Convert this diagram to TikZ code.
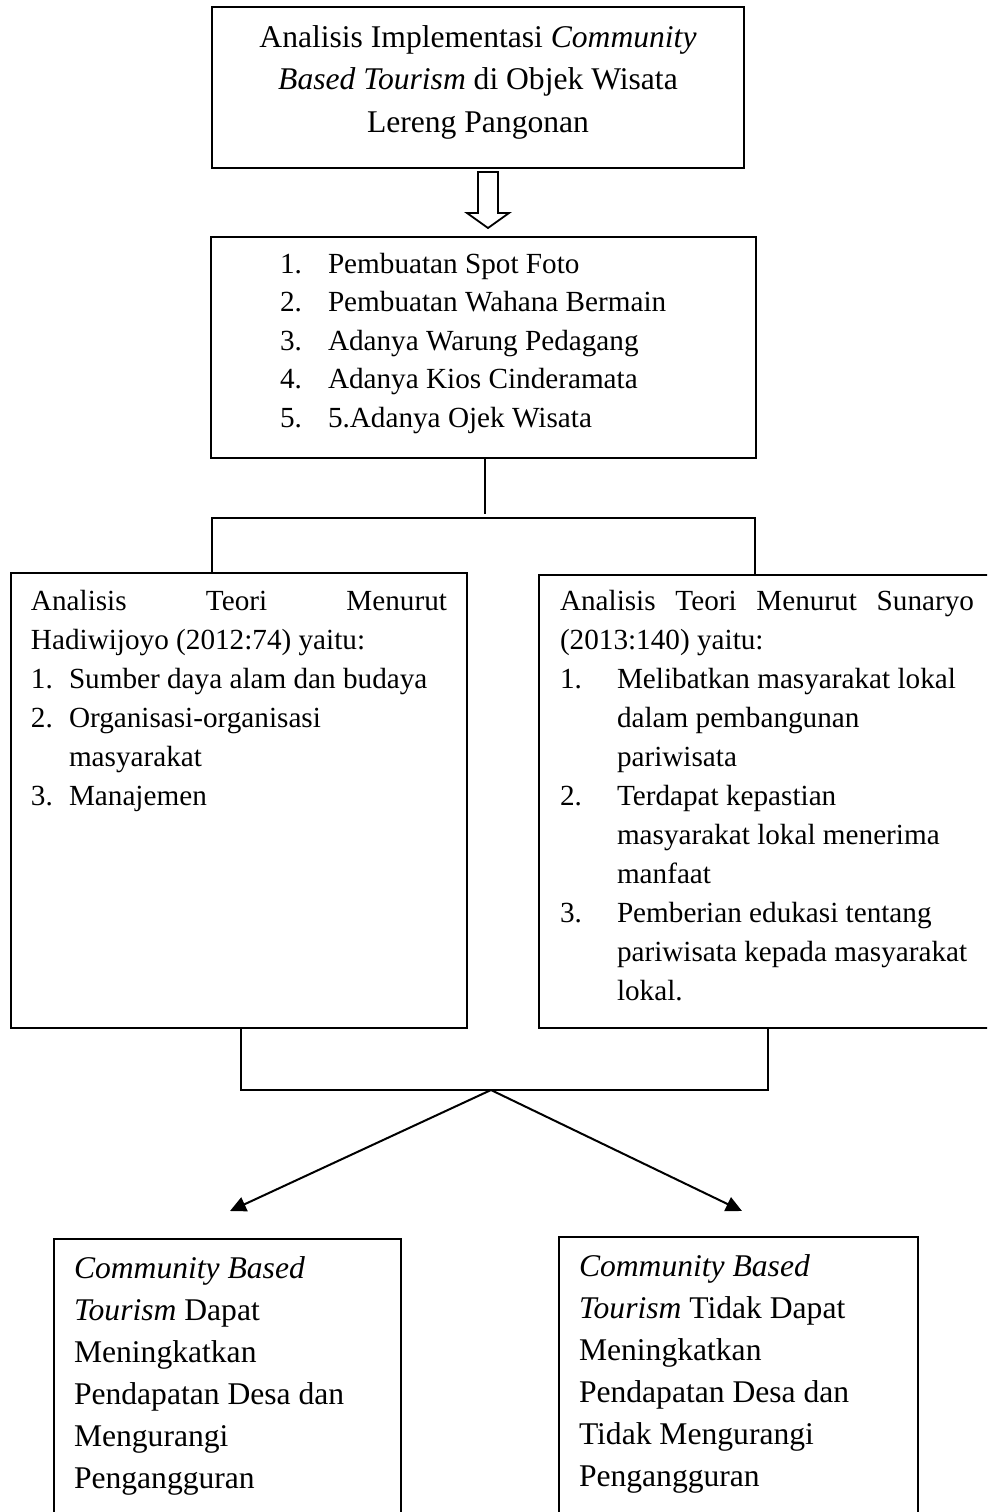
\documentclass[tikz,border=0pt]{standalone}
\usepackage{fontspec}
\setmainfont{Liberation Serif}
\usetikzlibrary{fit,arrows.meta}
\begin{document}
\begin{tikzpicture}[x=0.5pt,y=-0.5pt,
  box/.style={draw,line width=1pt,inner sep=0pt,outer sep=0pt},
  conn/.style={line width=1pt},
  arr/.style={line width=1pt,-{Triangle[length=8pt,width=7.5pt]}},
  bigtxt/.style={inner sep=0pt,outer sep=0pt,font=\fontsize{15.8}{19}\selectfont},
  midtxt/.style={inner sep=0pt,outer sep=0pt,anchor=base west,font=\fontsize{14.6}{18}\selectfont}]
\useasboundingbox (0,0) rectangle (987,1512);
\begin{scope}
\clip (0,0) rectangle (987,1512);
% boxes
\node[box,fit={(212,7)(744,168)}] (top) {};
\node[box,fit={(211,237)(756,458)}] (list) {};
\node[box,fit={(11,573)(467,1028)}] (hadi) {};
\node[box,fit={(539,575)(1000,1028)}] (suna) {};
\node[box,fit={(53.5,1239)(401,1530)}] (yes) {};
\node[box,fit={(559,1237)(918,1530)}] (no) {};

% top text
\node[bigtxt,anchor=base] (tt1) at (478,47) {Analisis Implementasi \textit{Community}};
\node[bigtxt,anchor=base] (tt2) at (478,89) {\textit{Based Tourism} di Objek Wisata};
\node[bigtxt,anchor=base] (tt3) at (478,132) {Lereng Pangonan};

% hollow arrow
\draw[line width=0.9pt] (478,172) -- (498,172) -- (498,213) -- (509,213) -- (488,228) -- (467,213) -- (478,213) -- cycle;

% list text
\foreach \t [count=\i] in {{Pembuatan Spot Foto},{Pembuatan Wahana Bermain},{Adanya Warung Pedagang},{Adanya Kios Cinderamata},{5.Adanya Ojek Wisata}}{
  \node[midtxt] (ln\i) at (280,{273.3+38.5*(\i-1)}) {\i.};
  \node[midtxt] (lt\i) at (328,{273.3+38.5*(\i-1)}) {\t};
}

% Hadiwijoyo text
\node[midtxt] (h1) at (31,610) {\makebox[208pt][l]{Analisis\hfill Teori\hfill Menurut}};
\node[midtxt] (h2) at (31,649) {Hadiwijoyo (2012:74) yaitu:};
\node[midtxt] (h3n) at (31,688) {1.};
\node[midtxt] (h3) at (69,688) {Sumber daya alam dan budaya};
\node[midtxt] (h4n) at (31,727) {2.};
\node[midtxt] (h4) at (69,727) {Organisasi-organisasi};
\node[midtxt] (h5) at (69,766) {masyarakat};
\node[midtxt] (h6n) at (31,805) {3.};
\node[midtxt] (h6) at (69,805) {Manajemen};

% Sunaryo text
\node[midtxt] (s1) at (560,610) {\makebox[207pt][l]{Analisis\hfill Teori\hfill Menurut\hfill Sunaryo}};
\node[midtxt] (s2) at (560,649) {(2013:140) yaitu:};
\node[midtxt] (s3n) at (560,688) {1.};
\node[midtxt] (s3) at (617,688) {Melibatkan masyarakat lokal};
\node[midtxt] (s4) at (617,727) {dalam pembangunan};
\node[midtxt] (s5) at (617,766) {pariwisata};
\node[midtxt] (s6n) at (560,805) {2.};
\node[midtxt] (s6) at (617,805) {Terdapat kepastian};
\node[midtxt] (s7) at (617,844) {masyarakat lokal menerima};
\node[midtxt] (s8) at (617,883) {manfaat};
\node[midtxt] (s9n) at (560,922) {3.};
\node[midtxt] (s9) at (617,922) {Pemberian edukasi tentang};
\node[midtxt] (s10) at (617,961) {pariwisata kepada masyarakat};
\node[midtxt] (s11) at (617,1000) {lokal.};

% bottom texts
\foreach \t [count=\i] in {{\textit{Community Based}},{\textit{Tourism} Dapat},{Meningkatkan},{Pendapatan Desa dan},{Mengurangi},{Pengangguran}}{
  \node[bigtxt,anchor=base west] (y\i) at (74,{1278+42*(\i-1)}) {\t};
}
\foreach \t [count=\i] in {{\textit{Community Based}},{\textit{Tourism} Tidak Dapat},{Meningkatkan},{Pendapatan Desa dan},{Tidak Mengurangi},{Pengangguran}}{
  \node[bigtxt,anchor=base west] (n\i) at (579,{1276+42*(\i-1)}) {\t};
}

% connectors
\coordinate (a1) at (485,514);
\draw[conn] (list.south -| a1) -- (a1);
\coordinate (hL) at (212,518);
\coordinate (hR) at (755,518);
\draw[conn] (hL |- hadi.north) -- (hL) -- (hR) -- (hR |- suna.north);

\coordinate (bL) at (241,1090);
\coordinate (bR) at (768,1090);
\draw[conn] (bL |- hadi.south) -- (bL) -- (bR) -- (bR |- suna.south);
\coordinate (apex) at (491,1090);
\coordinate (tipL) at (230,1211);
\coordinate (tipR) at (742,1211);
\draw[arr] (apex) -- (tipL);
\draw[arr] (apex) -- (tipR);
\end{scope}
\end{tikzpicture}
\end{document}
